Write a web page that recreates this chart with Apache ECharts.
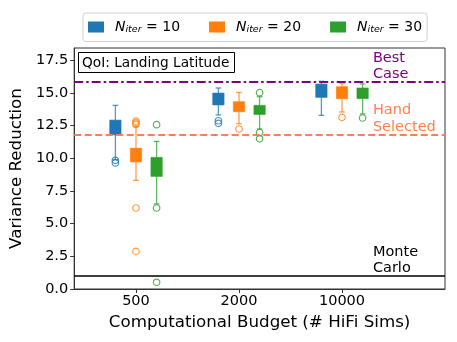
<!DOCTYPE html>
<html>
<head>
<meta charset="utf-8">
<script src="https://cdn.jsdelivr.net/npm/echarts@6/dist/echarts.min.js"></script>
<style>html,body{margin:0;padding:0;background:#fff;}#c{width:457px;height:342px;}</style>
</head>
<body>
<div id="c"></div>
<script>
// Budgets (category tick labels) and iteration counts
const categories = ['500', '2000', '10000'];
const niters = [10, 20, 30];

// N_iter = 10 : per budget
const n10Low  = [9.9, 13.32, 13.29];
const n10Q1   = [11.8, 14.09, 14.67];
const n10Q3   = [12.93, 15.0, 15.69];
const n10High = [14.06, 15.39, 15.9];
const n10Out  = [[9.85, 9.65], [12.88, 12.68], []];

// N_iter = 20
const n20Low  = [8.32, 12.65, 13.55];
const n20Q1   = [9.73, 13.57, 14.57];
const n20Q3   = [10.78, 14.34, 15.49];
const n20High = [12.45, 15.05, 15.72];
const n20Out  = [[12.85, 12.72, 12.6, 6.2, 2.88], [12.25], [13.14]];

// N_iter = 30
const n30Low  = [6.51, 12.25, 13.4];
const n30Q1   = [8.62, 13.36, 14.57];
const n30Q3   = [10.08, 14.06, 15.39];
const n30High = [11.3, 14.72, 15.7];
const n30Out  = [[12.58, 6.2, 0.51], [15.03, 11.98, 11.5], [13.09]];

// Reference levels
const bestCase = 15.87;
const handSelected = 11.84;
const monteCarlo = 1.0;

const yTicks = [0, 2.5, 5, 7.5, 10, 12.5, 15, 17.5];

const colors = ['#1f77b4', '#ff7f0e', '#2ca02c'];
const offsets = [-0.2, 0, 0.2];
const boxWidth = 0.11;
const FONT = 'DejaVu Sans';

const groups = [
  {low: n10Low, q1: n10Q1, q3: n10Q3, high: n10High, out: n10Out},
  {low: n20Low, q1: n20Q1, q3: n20Q3, high: n20High, out: n20Out},
  {low: n30Low, q1: n30Q1, q3: n30Q3, high: n30High, out: n30Out}
];

function renderBox(color) {
  return function (params, api) {
    const x = api.value(0);
    const pLow = api.coord([x, api.value(1)]);
    const pQ1 = api.coord([x, api.value(2)]);
    const pQ3 = api.coord([x, api.value(3)]);
    const pHigh = api.coord([x, api.value(4)]);
    const w = api.size([boxWidth, 0])[0];
    const cw = w * 0.5;
    const ws = {stroke: color, lineWidth: 1.3, opacity: 0.75};
    return {
      type: 'group',
      children: [
        {type: 'line', shape: {x1: pHigh[0], y1: pHigh[1], x2: pQ3[0], y2: pQ3[1]}, style: ws},
        {type: 'line', shape: {x1: pLow[0], y1: pLow[1], x2: pQ1[0], y2: pQ1[1]}, style: ws},
        {type: 'line', shape: {x1: pHigh[0] - cw / 2, y1: pHigh[1], x2: pHigh[0] + cw / 2, y2: pHigh[1]}, style: ws},
        {type: 'line', shape: {x1: pLow[0] - cw / 2, y1: pLow[1], x2: pLow[0] + cw / 2, y2: pLow[1]}, style: ws},
        {type: 'rect', shape: {x: pQ3[0] - w / 2, y: pQ3[1], width: w, height: pQ1[1] - pQ3[1]},
          style: {fill: color, stroke: color, lineWidth: 1, strokeOpacity: 0.6}}
      ]
    };
  };
}

const names = niters.map(n => 'N' + n);
const series = [];
groups.forEach((g, gi) => {
  const boxData = categories.map((c, ci) => [ci + 1 + offsets[gi], g.low[ci], g.q1[ci], g.q3[ci], g.high[ci]]);
  series.push({
    name: names[gi], type: 'custom', renderItem: renderBox(colors[gi]),
    itemStyle: {color: colors[gi]}, encode: {x: 0, y: [1, 2, 3, 4]}, data: boxData, z: 3
  });
  const outData = [];
  categories.forEach((c, ci) => g.out[ci].forEach(v => outData.push([ci + 1 + offsets[gi], v])));
  series.push({
    name: names[gi], type: 'scatter', symbol: 'circle', symbolSize: 6.5,
    itemStyle: {color: 'rgba(255,255,255,0)', borderColor: colors[gi], borderWidth: 1.2},
    data: outData, z: 4, silent: true
  });
});

series.push({
  name: 'ref', type: 'line', data: [], silent: true,
  markLine: {
    symbol: ['none', 'none'], silent: true, label: {show: false}, animation: false,
    data: [
      {yAxis: bestCase, lineStyle: {color: '#800080', width: 2, type: [9, 3, 2.5, 3]}},
      {yAxis: handSelected, lineStyle: {color: '#ff7f50', width: 2, type: [7, 3.5]}},
      {yAxis: monteCarlo, lineStyle: {color: '#000000', width: 1.6, type: 'solid'}}
    ]
  }
});

const chart = echarts.init(document.getElementById('c'));
chart.setOption({
  animation: false,
  backgroundColor: '#ffffff',
  grid: {left: 72, right: 12, top: 48, bottom: 53, show: true, borderColor: '#333', borderWidth: 1, backgroundColor: 'transparent'},
  title: {
    text: 'QoI: Landing Latitude', left: 78, top: 52,
    borderColor: '#000', borderWidth: 1, padding: [4, 5, 3, 4],
    textStyle: {fontFamily: FONT, fontSize: 13.7, fontWeight: 'normal', color: '#000'}
  },
  legend: {
    data: names.map(n => ({name: n, icon: 'rect'})),
    left: 83, top: 13, padding: [7, 5, 7, 5], itemGap: 29,
    itemWidth: 16, itemHeight: 11,
    borderColor: '#d0d0d0', borderWidth: 1, borderRadius: 3,
    formatter: function (name) {
      const n = niters[names.indexOf(name)];
      return '{n|N}{s|iter}{t| = ' + n + '}';
    },
    textStyle: {
      fontFamily: FONT, fontSize: 14, color: '#000',
      rich: {
        n: {fontFamily: FONT, fontSize: 14, fontStyle: 'italic', color: '#000', padding: [0, 0, 0, 6]},
        s: {fontFamily: FONT, fontSize: 9.5, fontStyle: 'italic', color: '#000', verticalAlign: 'bottom', padding: [5, 0, 0, 0]},
        t: {fontFamily: FONT, fontSize: 14, color: '#000'}
      }
    }
  },
  xAxis: {
    type: 'value', min: 0.4, max: 4.0,
    name: 'Computational Budget (# HiFi Sims)', nameLocation: 'middle', nameGap: 25,
    nameTextStyle: {fontFamily: FONT, fontSize: 16.7, color: '#000'},
    axisLine: {show: true, lineStyle: {color: '#333', width: 1}},
    axisTick: {show: true, customValues: [1, 2, 3], length: 4, lineStyle: {color: '#333'}},
    axisLabel: {customValues: [1, 2, 3], formatter: v => categories[Math.round(v) - 1] || '',
      fontFamily: FONT, fontSize: 14.5, color: '#000', margin: 5},
    splitLine: {show: false}
  },
  yAxis: {
    type: 'value', min: 0, max: 18.45, interval: 2.5,
    name: 'Variance Reduction', nameLocation: 'middle', nameGap: 46, nameRotate: 90,
    nameTextStyle: {fontFamily: FONT, fontSize: 16.7, color: '#000'},
    axisLine: {show: true, lineStyle: {color: '#333', width: 1}},
    axisTick: {show: true, length: 4, lineStyle: {color: '#333'}},
    axisLabel: {fontFamily: FONT, fontSize: 14.5, color: '#000', margin: 6, showMaxLabel: false,
      formatter: v => yTicks.indexOf(v) >= 0 ? v.toFixed(1) : ''},
    splitLine: {show: false}
  },
  series: series
});

// Text annotations for reference lines, placed through the chart's scales
const annX = 3.3;
const anns = [
  {lines: 'Best\nCase', y: bestCase, color: '#800080'},
  {lines: 'Hand\nSelected', y: handSelected, color: '#ff7f50'},
  {lines: 'Monte\nCarlo', y: monteCarlo, color: '#000000'}
];
chart.setOption({
  graphic: anns.map(a => {
    const p = chart.convertToPixel({gridIndex: 0}, [annX, a.y]);
    return {
      type: 'text', x: p[0], y: p[1] + 1, silent: true,
      style: {text: a.lines, fill: a.color, font: '14.5px "DejaVu Sans"', lineHeight: 16.5,
        textAlign: 'left', textVerticalAlign: 'bottom'}
    };
  })
});
</script>
</body>
</html>
